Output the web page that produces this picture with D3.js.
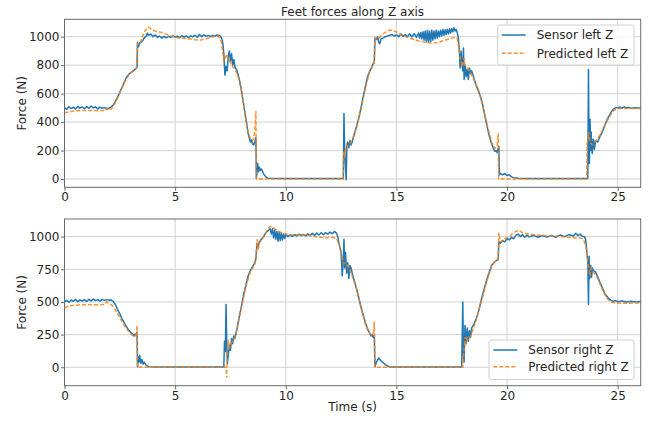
<!DOCTYPE html>
<html><head><meta charset="utf-8">
<script src="https://cdn.jsdelivr.net/npm/d3@7"></script>
<style>
html,body{margin:0;padding:0;background:#fff;}
svg{display:block;font-family:"DejaVu Sans",sans-serif;}
</style></head><body>
<svg id="chart" width="656" height="422"></svg>
<script>
// ---------- data ----------
const title = "Feet forces along Z axis";
const xLabel = "Time (s)";
const yLabel = "Force (N)";
const xTicks = [0, 5, 10, 15, 20, 25];
const yTicksTop = [0, 200, 400, 600, 800, 1000];
const yTicksBottom = [0, 250, 500, 750, 1000];
const legendTop = ["Sensor left Z", "Predicted left Z"];
const legendBottom = ["Sensor right Z", "Predicted right Z"];

const sensorLeftT = [0,0.1,0.2,0.3,0.4,0.5,0.6,0.7,0.8,0.9,1.0,1.1,1.2,1.3,1.4,1.5,1.6,1.7,1.8,1.9,2.0,2.1,2.2,2.3,2.4,2.5,2.6,2.7,2.8,2.9,3.0,3.1,3.2,3.28,3.3,3.35,3.4,3.5,3.6,3.7,3.75,3.8,3.9,4.0,4.1,4.2,4.3,4.4,4.5,4.6,4.7,4.8,4.9,5.0,5.1,5.2,5.3,5.4,5.5,5.6,5.7,5.8,5.9,6.0,6.1,6.2,6.3,6.4,6.5,6.6,6.7,6.8,6.9,7.0,7.1,7.15,7.2,7.25,7.3,7.35,7.4,7.45,7.5,7.55,7.6,7.65,7.7,7.8,7.9,8.0,8.1,8.2,8.3,8.35,8.4,8.45,8.5,8.55,8.6,8.65,8.67,8.7,8.73,8.76,8.8,8.85,8.9,9.0,9.1,9.2,10,11,12,12.6,12.63,12.66,12.7,12.73,12.76,12.8,12.85,12.9,12.95,13.0,13.1,13.2,13.3,13.4,13.5,13.6,13.7,13.8,13.9,13.95,14.0,14.03,14.1,14.15,14.2,14.25,14.3,14.4,14.5,14.6,14.7,14.8,14.9,15.0,15.1,15.2,15.3,15.4,15.5,15.6,15.7,15.8,15.9,16.0,16.05,16.1,16.15,16.2,16.25,16.3,16.35,16.4,16.45,16.5,16.55,16.6,16.65,16.7,16.75,16.8,16.85,16.9,16.95,17.0,17.05,17.1,17.15,17.2,17.25,17.3,17.35,17.4,17.45,17.5,17.55,17.6,17.65,17.7,17.75,17.8,17.85,17.88,17.92,17.96,18.0,18.03,18.06,18.1,18.15,18.2,18.25,18.3,18.35,18.4,18.5,18.6,18.7,18.8,18.9,19.0,19.1,19.2,19.3,19.4,19.45,19.5,19.55,19.6,19.63,19.65,19.7,19.8,19.9,20.0,20.1,20.2,20.3,20.5,21,22,23,23.65,23.68,23.7,23.72,23.75,23.78,23.8,23.85,23.9,23.95,24.0,24.1,24.2,24.3,24.4,24.5,24.6,24.7,24.8,24.9,25.0,25.1,25.2,25.3,25.4,25.5,25.6,25.8,26.04];
const sensorLeftF = [500,490,508,495,505,492,510,498,506,494,509,497,512,500,507,493,505,496,503,490,497,505,520,545,575,610,645,680,715,735,748,760,772,785,960,930,955,965,990,1005,1025,1010,1018,1000,1012,995,1005,990,1002,992,1003,995,1006,997,1004,993,1008,996,1005,994,1006,998,1010,996,1015,1000,1012,1002,1009,1000,1008,1003,1012,1008,990,960,880,730,790,760,860,900,830,880,800,840,790,760,700,620,520,420,320,290,260,275,245,240,260,290,5,60,110,50,85,60,70,35,15,5,3,3,3,3,460,200,80,-5,230,260,220,270,240,260,320,370,430,500,580,650,720,760,790,810,815,990,980,1000,960,950,985,990,1000,1005,1010,1015,1005,1012,1000,1018,1002,1015,1000,1020,998,1022,995,1025,990,1030,985,1035,975,1040,965,1045,960,1040,965,1045,975,1040,985,1045,990,1040,1000,1045,1005,1050,1010,1048,1015,1052,1020,1055,1025,1058,1035,1062,1040,1050,1030,990,880,780,900,820,760,920,700,800,720,770,700,780,740,760,710,660,620,580,520,440,370,300,250,210,195,200,185,215,230,30,40,30,38,25,30,15,10,5,3,3,3,3,770,300,110,420,200,330,180,280,210,270,260,300,330,370,410,440,470,490,500,502,505,498,507,500,502,497,500,497];

const predLeftT = [0,0.3,0.6,1.0,1.5,1.8,1.9,2.0,2.1,2.2,2.3,2.5,2.7,2.9,3.1,3.25,3.3,3.4,3.5,3.6,3.7,3.8,3.9,4.0,4.2,4.4,4.6,4.8,5.0,5.3,5.6,5.9,6.1,6.4,6.7,6.9,7.0,7.1,7.2,7.3,7.35,7.4,7.5,7.6,7.7,7.8,7.9,8.0,8.1,8.2,8.3,8.4,8.5,8.55,8.6,8.65,8.67,12.6,12.62,12.66,12.7,12.75,12.8,12.9,13.0,13.2,13.4,13.6,13.8,13.95,14.0,14.03,14.1,14.2,14.4,14.6,14.75,14.9,15.1,15.4,15.7,16.0,16.3,16.6,16.9,17.2,17.5,17.65,17.75,17.85,17.9,18.0,18.05,18.1,18.2,18.3,18.5,18.7,18.9,19.1,19.3,19.45,19.55,19.6,19.62,23.6,23.62,23.65,23.7,23.75,23.85,24.0,24.2,24.4,24.6,24.8,25.0,25.5,26.04];
const predLeftF = [465,475,480,482,480,482,500,485,490,510,540,605,675,730,760,780,950,945,990,1030,1055,1068,1055,1045,1035,1030,1018,1005,995,990,985,978,975,985,1000,1005,1000,960,830,860,880,840,820,790,770,740,690,610,510,410,330,285,270,290,340,480,0,0,200,150,210,240,230,250,270,360,490,640,760,800,820,990,985,990,1020,1040,1047,1040,1025,1000,985,970,960,955,960,975,990,995,985,900,830,790,850,800,780,760,700,630,520,380,260,215,230,320,0,0,250,270,330,260,240,265,310,370,430,480,495,495,495];

const sensorRightT = [0,0.1,0.2,0.3,0.4,0.5,0.6,0.7,0.8,0.9,1.0,1.1,1.2,1.3,1.4,1.5,1.6,1.7,1.8,1.9,2.0,2.1,2.2,2.3,2.4,2.5,2.6,2.7,2.8,2.9,3.0,3.1,3.15,3.2,3.25,3.28,3.3,3.33,3.36,3.4,3.45,3.5,3.55,3.6,3.7,3.8,4,5,6,7,7.2,7.23,7.27,7.3,7.33,7.36,7.4,7.45,7.5,7.55,7.6,7.65,7.7,7.8,7.9,8.0,8.1,8.2,8.3,8.4,8.5,8.6,8.65,8.7,8.75,8.8,8.9,9.0,9.1,9.2,9.3,9.35,9.4,9.45,9.5,9.55,9.6,9.65,9.7,9.75,9.8,9.85,9.9,9.95,10.0,10.1,10.2,10.3,10.4,10.5,10.6,10.7,10.8,10.9,11.0,11.1,11.2,11.3,11.4,11.5,11.6,11.7,11.8,11.9,12.0,12.1,12.2,12.3,12.35,12.4,12.5,12.55,12.6,12.63,12.66,12.7,12.75,12.8,12.85,12.9,12.95,13.0,13.1,13.2,13.3,13.4,13.5,13.6,13.7,13.8,13.85,13.9,13.95,14.0,14.03,14.1,14.2,14.3,14.4,14.5,14.6,14.7,15,16,17,17.9,17.95,18.0,18.03,18.06,18.1,18.15,18.2,18.25,18.3,18.35,18.4,18.5,18.6,18.7,18.8,18.9,19.0,19.1,19.2,19.3,19.4,19.5,19.6,19.63,19.7,19.8,19.9,20.0,20.1,20.2,20.3,20.4,20.5,20.6,20.7,20.8,20.9,21.0,21.2,21.4,21.6,21.8,22.0,22.2,22.4,22.6,22.8,23.0,23.1,23.2,23.3,23.4,23.5,23.55,23.6,23.65,23.68,23.71,23.74,23.78,23.82,23.86,23.9,24.0,24.1,24.2,24.3,24.4,24.5,24.6,24.7,24.8,24.9,25.0,25.2,25.4,25.6,25.8,26.04];
const sensorRightF = [500,512,498,515,505,520,502,516,506,518,503,520,508,522,510,518,506,520,512,518,514,515,505,480,440,410,370,340,310,285,265,250,240,255,245,270,5,80,40,90,30,60,25,40,15,5,2,2,2,2,2,200,120,480,200,30,90,170,130,220,180,240,220,300,390,470,560,630,700,740,770,800,830,950,920,960,980,1000,1030,1045,1060,1020,1060,990,1050,980,1040,965,1035,970,1030,975,1020,985,1015,1000,1012,1002,1015,1005,1020,1008,1018,1005,1022,1008,1025,1010,1028,1012,1030,1015,1032,1018,1035,1022,1040,1025,1000,950,880,700,820,980,760,880,720,800,680,780,760,720,660,600,530,460,400,340,290,260,240,250,230,245,5,40,70,50,35,20,10,3,2,2,2,2,5,500,100,40,320,180,300,200,280,230,300,330,370,420,490,560,620,680,730,780,800,815,825,960,950,970,960,985,975,995,985,1010,1020,1000,1015,995,1012,998,1010,995,1008,997,1010,995,1012,1000,1015,1005,1025,1008,1020,1002,1000,980,900,800,480,850,680,780,690,760,740,730,690,650,610,570,545,525,512,505,510,502,508,500,505,500,503];

const predRightT = [0,0.2,0.5,1.0,1.5,1.8,1.9,2.0,2.1,2.2,2.3,2.4,2.5,2.6,2.7,2.8,2.9,3.0,3.1,3.2,3.25,3.28,3.3,7.3,7.33,7.36,7.4,7.45,7.5,7.6,7.7,7.8,7.9,8.0,8.2,8.4,8.6,8.65,8.7,8.75,8.8,9.0,9.15,9.3,9.4,9.6,9.8,10.0,10.3,10.6,10.9,11.2,11.5,11.8,12.1,12.3,12.45,12.55,12.62,12.7,12.8,12.9,13.0,13.2,13.4,13.6,13.8,13.9,13.97,14.0,14.03,18.0,18.05,18.1,18.15,18.2,18.3,18.4,18.5,18.6,18.7,18.9,19.1,19.3,19.5,19.6,19.63,19.7,19.9,20.1,20.3,20.5,20.7,21.0,21.5,22.0,22.5,23.0,23.3,23.45,23.55,23.62,23.68,23.75,23.8,23.9,24.1,24.3,24.5,24.7,24.9,25.2,26.04];
const predRightF = [455,470,475,478,478,480,500,490,480,465,440,410,380,350,320,295,275,255,240,235,260,320,0,0,-80,100,210,140,180,200,230,290,380,460,620,730,790,820,980,900,950,1000,1050,1078,1070,1050,1030,1020,1012,1015,1012,1005,995,992,995,985,920,840,790,800,770,740,700,600,460,330,260,245,270,350,0,0,120,230,180,230,220,260,310,360,420,540,670,770,820,830,1030,960,985,1000,1030,1050,1030,1020,1010,1005,1000,990,990,980,930,860,760,700,760,730,680,600,530,500,492,490,492];

// ---------- layout ----------
const svg = d3.select("#chart");
const left = 64.5, right = 640.7;
const panels = [
  {top: 19.3, bottom: 187.3, yDomain: [-58, 1122], yTicks: yTicksTop,
   sT: sensorLeftT, sF: sensorLeftF, pT: predLeftT, pF: predLeftF, legend: legendTop,
   leg: {x: 497.7, y: 25, w: 136.3, h: 40, lineX: 501.7, textX: 536.7, row1: 35, row2: 53.3}},
  {top: 219, bottom: 385.7, yDomain: [-141, 1135], yTicks: yTicksBottom,
   sT: sensorRightT, sF: sensorRightF, pT: predRightT, pF: predRightF, legend: legendBottom,
   leg: {x: 489, y: 340, w: 145, h: 39.5, lineX: 493.3, textX: 528.3, row1: 350, row2: 366.7}}
];
const blue = "#1f77b4", orange = "#ff7f0e";
const textColor = "#262626";
const spine = "#6a6a6a";

const x = d3.scaleLinear().domain([0, 26.04]).range([left, right]);

panels.forEach((p, i) => {
  const y = d3.scaleLinear().domain(p.yDomain).range([p.bottom, p.top]);
  const g = svg.append("g");
  // grid
  g.selectAll(".gx").data(xTicks).enter().append("line")
    .attr("x1", d => x(d)).attr("x2", d => x(d))
    .attr("y1", p.top).attr("y2", p.bottom)
    .attr("stroke", "#d2d2d2").attr("stroke-width", 1);
  g.selectAll(".gy").data(p.yTicks).enter().append("line")
    .attr("x1", left).attr("x2", right)
    .attr("y1", d => y(d)).attr("y2", d => y(d))
    .attr("stroke", "#d2d2d2").attr("stroke-width", 1);

  const clipId = "clip" + i;
  svg.append("clipPath").attr("id", clipId).append("rect")
    .attr("x", left).attr("y", p.top).attr("width", right - left).attr("height", p.bottom - p.top);

  const sData = p.sT.map((t, k) => [t, p.sF[k]]);
  const pData = p.pT.map((t, k) => [t, p.pF[k]]);
  const line = d3.line().x(d => x(d[0])).y(d => y(d[1]));
  const lg = svg.append("g").attr("clip-path", `url(#${clipId})`);
  lg.append("path").datum(sData).attr("d", line)
    .attr("fill", "none").attr("stroke", blue).attr("stroke-width", 1.5)
    .attr("stroke-linejoin", "round");
  lg.append("path").datum(pData).attr("d", line)
    .attr("fill", "none").attr("stroke", orange).attr("stroke-width", 1.5)
    .attr("stroke-dasharray", "4,2").attr("opacity", 0.85);

  // frame
  svg.append("rect").attr("x", left).attr("y", p.top)
    .attr("width", right - left).attr("height", p.bottom - p.top)
    .attr("fill", "none").attr("stroke", spine).attr("stroke-width", 1);

  // axes with short outward ticks
  const xa = svg.append("g").attr("transform", `translate(0,${p.bottom})`)
    .call(d3.axisBottom(x).tickValues(xTicks).tickSizeInner(3.5).tickSizeOuter(0).tickPadding(2).tickFormat(d3.format("d")));
  xa.select(".domain").remove();
  xa.selectAll(".tick line").attr("stroke", spine);
  xa.selectAll("text").attr("font-size", 12).attr("fill", textColor)
    .attr("font-family", "DejaVu Sans");
  const ya = svg.append("g").attr("transform", `translate(${left},0)`)
    .call(d3.axisLeft(y).tickValues(p.yTicks).tickSizeInner(3.5).tickSizeOuter(0).tickPadding(1.5).tickFormat(d3.format("d")));
  ya.select(".domain").remove();
  ya.selectAll(".tick line").attr("stroke", spine);
  ya.selectAll("text").attr("font-size", 12).attr("fill", textColor)
    .attr("font-family", "DejaVu Sans");

  svg.append("text").attr("transform", `translate(25.5,${(p.top + p.bottom) / 2}) rotate(-90)`)
    .attr("text-anchor", "middle").attr("font-size", 12).attr("fill", textColor).text(yLabel);

  // legend
  const L = p.leg;
  svg.append("rect").attr("x", L.x).attr("y", L.y).attr("width", L.w).attr("height", L.h)
    .attr("rx", 2.5).attr("fill", "#fff").attr("fill-opacity", 0.8)
    .attr("stroke", "#d0d0d0").attr("stroke-width", 1);
  svg.append("line").attr("x1", L.lineX).attr("x2", L.lineX + 24).attr("y1", L.row1).attr("y2", L.row1)
    .attr("stroke", blue).attr("stroke-width", 1.5);
  svg.append("line").attr("x1", L.lineX).attr("x2", L.lineX + 24).attr("y1", L.row2).attr("y2", L.row2)
    .attr("stroke", orange).attr("stroke-width", 1.5).attr("stroke-dasharray", "4,2").attr("opacity", 0.85);
  svg.append("text").attr("x", L.textX).attr("y", L.row1 + 4.3).attr("font-size", 12)
    .attr("fill", textColor).text(p.legend[0]);
  svg.append("text").attr("x", L.textX).attr("y", L.row2 + 4.3).attr("font-size", 12)
    .attr("fill", textColor).text(p.legend[1]);
});

svg.append("text").attr("x", (left + right) / 2).attr("y", 15.5).attr("text-anchor", "middle")
  .attr("font-size", 12).attr("fill", textColor).text(title);
svg.append("text").attr("x", (left + right) / 2).attr("y", 411).attr("text-anchor", "middle")
  .attr("font-size", 12).attr("fill", textColor).text(xLabel);
</script>
</body></html>
